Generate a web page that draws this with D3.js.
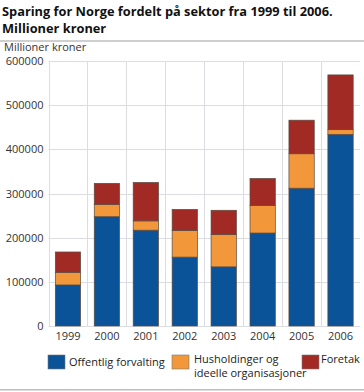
<!DOCTYPE html>
<html><head><meta charset="utf-8">
<script src="https://cdn.jsdelivr.net/npm/d3@7"></script>
<style>body{margin:0;background:#fff;}svg{display:block;font-family:"Open Sans",sans-serif;}</style>
</head><body>
<svg id="c" width="364" height="392"></svg>
<script>
const years = ["1999","2000","2001","2002","2003","2004","2005","2006"];
const offentlig = [93000,247500,217000,156000,134000,210500,312000,434000];
const husholdinger = [28600,28000,21000,60500,73000,62500,78000,10500];
const foretak = [46000,47500,87000,47500,55000,61000,76000,124000];
const seriesNames = ["Offentlig forvalting","Husholdinger og\nideelle organisasjoner","Foretak"];
const colors = ["#0b5399","#f2983a","#a12a25"];
const yTicks = [0,100000,200000,300000,400000,500000,600000];

const svg = d3.select("#c");
const m = {l:48.5, r:4, t:61, b:66};
const x = d3.scaleBand().domain(years).range([m.l, 360]).paddingInner(0.35).paddingOuter(0.175);
const y = d3.scaleLinear().domain([0,600000]).range([326,61]);

// title
const t1 = svg.append("text").attr("x",2).attr("y",16).attr("font-size",14).attr("font-weight","bold").attr("fill","#111")
  .text("Sparing for Norge fordelt på sektor fra 1999 til 2006.");
const w1 = t1.node().getComputedTextLength();
const fs = Math.min(14, 14 * 331 / w1);
t1.attr("font-size", fs);
svg.append("text").attr("x",2).attr("y",33).attr("font-size",fs).attr("font-weight","bold").attr("fill","#111")
  .text("Millioner kroner");
svg.append("rect").attr("x",0).attr("y",40).attr("width",364).attr("height",2).attr("fill","#cfcfcf");
svg.append("rect").attr("x",0).attr("y",389).attr("width",364).attr("height",1.5).attr("fill","#bdbdbd");
svg.append("text").attr("x",4).attr("y",51).attr("font-size",11).attr("fill","#333").text("Millioner kroner");

// gridlines
svg.append("g").selectAll("line").data(yTicks).join("line")
  .attr("x1",m.l).attr("x2",360).attr("y1",d=>Math.round(y(d))+0.5).attr("y2",d=>Math.round(y(d))+0.5)
  .attr("stroke","#dcdde2").attr("stroke-width",1);
const vb = d3.range(0,years.length).map(i=>x(years[i]) - x.step()*x.paddingInner()/2);
svg.append("g").selectAll("line").data(vb).join("line")
  .attr("x1",d=>Math.round(d)+0.5).attr("x2",d=>Math.round(d)+0.5).attr("y1",61).attr("y2",326)
  .attr("stroke","#dcdde2").attr("stroke-width",1);

// y axis
const ya = svg.append("g").attr("transform",`translate(${m.l},0)`)
  .call(d3.axisLeft(y).tickValues(yTicks).tickSize(0).tickPadding(5).tickFormat(d3.format("d")));
ya.select(".domain").remove();
ya.selectAll("text").attr("font-size",11).attr("fill","#333").attr("font-family","Open Sans, sans-serif");

// x axis
const xa = svg.append("g").attr("transform",`translate(0,326)`)
  .call(d3.axisBottom(x).tickSize(0).tickPadding(6));
xa.select(".domain").remove();
xa.selectAll("text").attr("font-size",11).attr("fill","#333").attr("font-family","Open Sans, sans-serif");

// stacked bars
const data = years.map((yr,i)=>({year:yr, a:offentlig[i], b:husholdinger[i], c:foretak[i]}));
const stack = d3.stack().keys(["a","b","c"])(data);
stack.forEach((s,si)=>{
  svg.append("g").selectAll("rect").data(s).join("rect")
    .attr("x",d=>x(d.data.year)).attr("width",x.bandwidth())
    .attr("y",d=>y(d[1])).attr("height",d=>y(d[0])-y(d[1]))
    .attr("fill",colors[si]).attr("stroke","#5a4a40").attr("stroke-width",0.7);
});

// legend
const leg = [{x:48,c:0},{x:172,c:1},{x:302,c:2}];
leg.forEach(l=>{
  svg.append("rect").attr("x",l.x).attr("y",355).attr("width",17).attr("height",14)
    .attr("fill",colors[l.c]).attr("stroke","#777").attr("stroke-width",0.6);
});
svg.append("text").attr("x",69).attr("y",366).attr("font-size",11).attr("fill","#222").text(seriesNames[0]);
const t2 = seriesNames[1].split("\n");
svg.append("text").attr("x",194).attr("y",363).attr("font-size",11).attr("fill","#222").text(t2[0]);
svg.append("text").attr("x",194).attr("y",377).attr("font-size",11).attr("fill","#222").text(t2[1]);
svg.append("text").attr("x",321).attr("y",363).attr("font-size",11).attr("fill","#222").text(seriesNames[2]);
</script>
</body></html>
